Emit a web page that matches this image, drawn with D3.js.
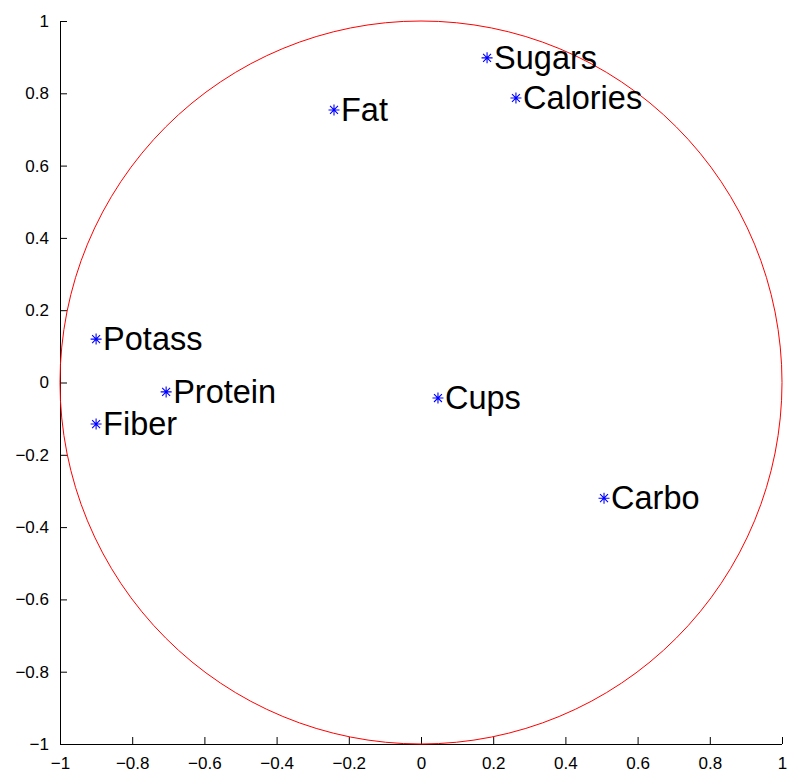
<!DOCTYPE html>
<html>
<head>
<meta charset="utf-8">
<script src="https://cdn.jsdelivr.net/npm/d3@7"></script>
<style>
  body { margin: 0; background: #fff; }
  text { font-family: "Liberation Sans", Arial, sans-serif; }
</style>
</head>
<body>
<div id="chart"></div>
<script>
// Variables and their loadings
const names = ["Sugars", "Calories", "Fat", "Potass", "Protein", "Fiber", "Cups", "Carbo"];
const xVals = [0.183, 0.263, -0.241, -0.900, -0.706, -0.900, 0.047, 0.507];
const yVals = [0.898, 0.787, 0.754, 0.120, -0.026, -0.115, -0.043, -0.320];
const tickVals = [-1, -0.8, -0.6, -0.4, -0.2, 0, 0.2, 0.4, 0.6, 0.8, 1];

const W = 788, H = 774;
const margin = { top: 21, right: 6, bottom: 30, left: 60 };
const width = W - margin.left - margin.right;
const height = H - margin.top - margin.bottom;

const svg = d3.select("#chart")
  .append("svg")
  .attr("width", W)
  .attr("height", H)
  .append("g")
  .attr("transform", `translate(${margin.left},${margin.top})`);

const x = d3.scaleLinear().domain([-1, 1]).range([0, width]);
const y = d3.scaleLinear().domain([-1, 1]).range([height, 0]);

const fmt = d => (d < 0 ? "\u2212" : "") + d3.format("~g")(Math.abs(d));

// Axes with inward ticks
const xAxis = svg.append("g")
  .attr("transform", `translate(0,${height})`)
  .call(d3.axisBottom(x).tickValues(tickVals).tickFormat(fmt).tickSize(-7).tickPadding(13));
const yAxis = svg.append("g")
  .call(d3.axisLeft(y).tickValues(tickVals).tickFormat(fmt).tickSize(-7).tickPadding(11));

[xAxis, yAxis].forEach(a => {
  a.select(".domain").attr("stroke", "#000");
  a.selectAll(".tick line").attr("stroke", "#000");
  a.selectAll("text").style("font-size", "17px").attr("fill", "#000");
});
xAxis.select(".domain").attr("d", `M0,0.5H${width}`);
yAxis.select(".domain").attr("d", `M0.5,${height}V0`);

// Unit circle
svg.append("ellipse")
  .attr("cx", x(0))
  .attr("cy", y(0))
  .attr("rx", x(1) - x(0))
  .attr("ry", y(-1) - y(0))
  .attr("fill", "none")
  .attr("stroke", "#f00")
  .attr("stroke-width", 1);

// Asterisk markers
const r = 5.5, rd = r * 0.72;
const star = `M${-r},0H${r}M0,${-r}V${r}M${-rd},${-rd}L${rd},${rd}M${-rd},${rd}L${rd},${-rd}`;

const pts = names.map((n, i) => ({ name: n, x: xVals[i], y: yVals[i] }));

svg.selectAll(".pt")
  .data(pts)
  .join("path")
  .attr("class", "pt")
  .attr("transform", d => `translate(${x(d.x)},${y(d.y)})`)
  .attr("d", star)
  .attr("stroke", "#00f")
  .attr("stroke-width", 1.1)
  .attr("fill", "none");

svg.selectAll(".lbl")
  .data(pts)
  .join("text")
  .attr("class", "lbl")
  .attr("x", d => x(d.x) + 7)
  .attr("y", d => y(d.y) + 11)
  .style("font-size", "32.5px")
  .attr("fill", "#000")
  .text(d => d.name);
</script>
</body>
</html>
